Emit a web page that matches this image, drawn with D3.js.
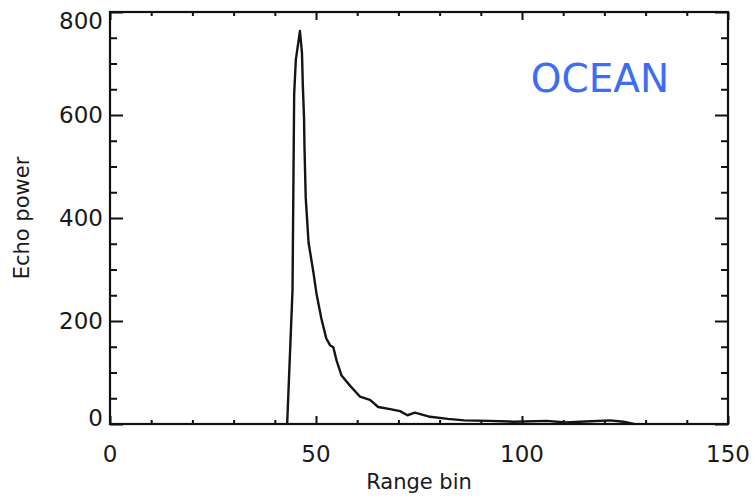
<!DOCTYPE html>
<html>
<head>
<meta charset="utf-8">
<script src="https://cdn.jsdelivr.net/npm/d3@7"></script>
<style>
  html, body { margin: 0; padding: 0; background: #fff; }
  svg { display: block; }
  text { font-family: "DejaVu Sans", sans-serif; fill: #1a1a1a; }
</style>
</head>
<body>
<svg id="chart" width="755" height="499"></svg>
<script>
// Ocean waveform: echo power sampled against range bin
const rangeBin = [43.0, 44.3, 44.5, 44.7, 45.1, 46.1, 46.6, 46.8, 47.1, 47.2, 47.5, 48.2,
  49.4, 50.1, 51.3, 52.5, 53.4, 54.2, 55.0, 56.2, 58.3, 60.7, 62.7, 63.1, 65.1, 68.0,
  70.4, 72.2, 74.0, 77.7, 82.0, 86.0, 92.0, 98.0, 106.0, 110.8, 114.0, 121.4, 124.6, 127.2];
const echoPower = [0, 260, 450, 640, 707, 763, 720, 658, 593, 540, 440, 352,
  293, 254, 205, 166, 153, 149, 123, 94, 74, 53, 48, 47, 33, 29,
  25, 17, 22, 14, 10, 7, 6, 4.5, 6, 3, 4.5, 7, 4.5, 0];

const xMajorTicks = [0, 50, 100, 150];
const xMinorTicks = [10, 20, 30, 40, 60, 70, 80, 90, 110, 120, 130, 140];
const yMajorTicks = [0, 200, 400, 600, 800];
const yMinorTicks = [50, 100, 150, 250, 300, 350, 450, 500, 550, 650, 700, 750];

const xTitle = "Range bin";
const yTitle = "Echo power";
const surfaceLabel = "OCEAN";

const svg = d3.select("#chart");
const box = { left: 110, right: 728, top: 12, bottom: 424 };

const x = d3.scaleLinear().domain([0, 150]).range([box.left, box.right]);
const y = d3.scaleLinear().domain([0, 800]).range([box.bottom, box.top]);

// Inward-pointing tick marks on all four sides
function tickAxis(axisFn, scale, ticks, size, transform) {
  const g = svg.append("g").attr("transform", transform)
    .call(axisFn(scale).tickValues(ticks).tickSize(-size).tickFormat(""));
  g.select(".domain").remove();
  g.selectAll(".tick line").attr("stroke", "#111").attr("stroke-width", 2);
  return g;
}
tickAxis(d3.axisBottom, x, xMajorTicks, 8, `translate(0,${box.bottom})`);
tickAxis(d3.axisBottom, x, xMinorTicks, 4, `translate(0,${box.bottom})`);
tickAxis(d3.axisTop, x, xMajorTicks, 8, `translate(0,${box.top})`);
tickAxis(d3.axisTop, x, xMinorTicks, 4, `translate(0,${box.top})`);
tickAxis(d3.axisLeft, y, yMajorTicks, 13, `translate(${box.left},0)`);
tickAxis(d3.axisLeft, y, yMinorTicks, 7, `translate(${box.left},0)`);
tickAxis(d3.axisRight, y, yMajorTicks, 13, `translate(${box.right},0)`);
tickAxis(d3.axisRight, y, yMinorTicks, 7, `translate(${box.right},0)`);

// Frame
svg.append("rect")
  .attr("x", box.left).attr("y", box.top)
  .attr("width", box.right - box.left).attr("height", box.bottom - box.top)
  .attr("fill", "none").attr("stroke", "#111").attr("stroke-width", 2.2);

// Waveform
const points = rangeBin.map((b, i) => [b, echoPower[i]]);
svg.append("path")
  .datum(points)
  .attr("fill", "none")
  .attr("stroke", "#141414")
  .attr("stroke-width", 2.4)
  .attr("stroke-linejoin", "round")
  .attr("d", d3.line().x(d => x(d[0])).y(d => y(d[1])));

// Tick labels
svg.append("g").selectAll("text").data(xMajorTicks).join("text")
  .attr("x", d => x(d)).attr("y", 462)
  .attr("text-anchor", "middle")
  .attr("font-size", 23)
  .text(d => d);

svg.append("g").selectAll("text").data(yMajorTicks).join("text")
  .attr("x", 103)
  .attr("y", d => {
    let yy = y(d) + 8;
    if (d === 0) yy -= 6;
    if (d === 800) yy += 9;
    return yy;
  })
  .attr("text-anchor", "end")
  .attr("font-size", 23)
  .text(d => d);

// Axis titles
svg.append("text")
  .attr("x", (box.left + box.right) / 2).attr("y", 489)
  .attr("text-anchor", "middle")
  .attr("font-size", 21)
  .text(xTitle);

svg.append("text")
  .attr("transform", `translate(29,${(box.top + box.bottom) / 2}) rotate(-90)`)
  .attr("text-anchor", "middle")
  .attr("font-size", 21)
  .text(yTitle);

// Surface type annotation
svg.append("text")
  .attr("x", 600).attr("y", 92)
  .attr("text-anchor", "middle")
  .attr("font-family", "'Liberation Sans', Arial, sans-serif")
  .attr("font-size", 39)
  .style("fill", "#3d6cf7")
  .text(surfaceLabel);
</script>
</body>
</html>
